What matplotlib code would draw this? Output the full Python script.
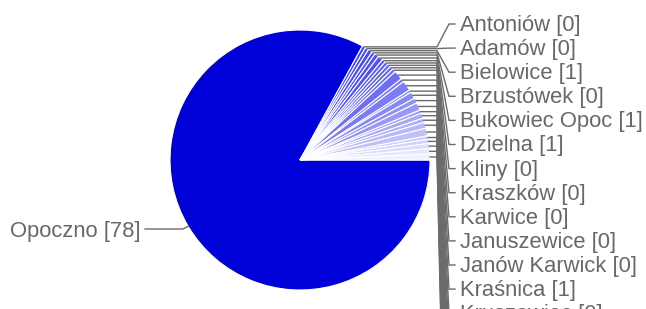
import matplotlib.pyplot as plt
import numpy as np

plt.rcParams['font.family'] = ['Liberation Sans', 'DejaVu Sans']

# villages of gmina Opoczno, names cut to 13 characters as in the chart
names = ["Opoczno", "Antoniów", "Adamów", "Bielowice", "Brzustówek",
         "Bukowiec Opoc", "Dzielna", "Kliny", "Kraszków", "Karwice",
         "Januszewice", "Janów Karwick", "Kraśnica", "Kruszewiec",
         "Libiszów", "Libiszów-Kolo", "Modrzew", "Mroczków Gośc",
         "Ogonowice", "Ostrów", "Sielec", "Sitowa", "Sobawiny", "Stużno",
         "Stużno-Koloni", "Wola Załężna", "Wólka Karwick", "Ziębów",
         "Zameczek"]
shown = [78, 0, 0, 1, 0, 1, 1, 0, 0, 0, 0, 0, 1, 0,
         1, 0, 1, 1, 1, 0, 1, 1, 1, 1, 0, 1, 1, 1, 1]
values = [78, 0.4, 0.4, 0.5, 0.4, 0.5, 0.6, 0.4, 0.4, 0.4, 0.4, 0.4, 1.1, 0.4,
          1.2, 0.3, 0.8, 0.6, 0.9, 0.4, 0.6, 0.5, 0.7, 0.9, 0.4, 0.5, 0.6, 0.6, 0.7]

W, H = 646, 309
cx, cy, r = 300, H - 160, 130
grey = "#6b6b6b"

n_small = len(values) - 1
light = np.linspace(0, 1, n_small) ** 1.6
colors = ["#0000d8"] + [(0.28 + 0.66 * t, 0.28 + 0.66 * t, 0.93 + 0.07 * t) for t in light]

fig = plt.figure(figsize=(W / 100, H / 100), dpi=100)
ax = fig.add_axes([0, 0, 1, 1])
wedges, _ = ax.pie(values, colors=colors, startangle=0, counterclock=False,
                   center=(cx, cy), radius=r,
                   wedgeprops=dict(edgecolor="white", linewidth=0.8))
ax.set_xlim(0, W)
ax.set_ylim(0, H)
ax.set_aspect("equal")
ax.axis("off")

for i, w in enumerate(wedges):
    mid = np.deg2rad((w.theta1 + w.theta2) / 2)
    px, py = cx + r * np.cos(mid), cy + r * np.sin(mid)
    label = f"{names[i]} [{shown[i]}]"
    if i == 0:
        ly = H - 229
        ax.plot([px, 183, 145], [py, ly, ly], color=grey, lw=1, clip_on=False)
        ax.text(141, H - 237, label, ha="right", va="baseline",
                fontsize=15.8, color="#686868")
    else:
        base = 31 + 24.1 * (i - 1)
        ly = H - (base - 7)
        ax.plot([px, 437, 449, 455], [py, py, ly, ly], color=grey, lw=1)
        ax.text(460, H - base, label, ha="left", va="baseline",
                fontsize=15.8, color="#686868")

fig.savefig("out.png", dpi=100)
